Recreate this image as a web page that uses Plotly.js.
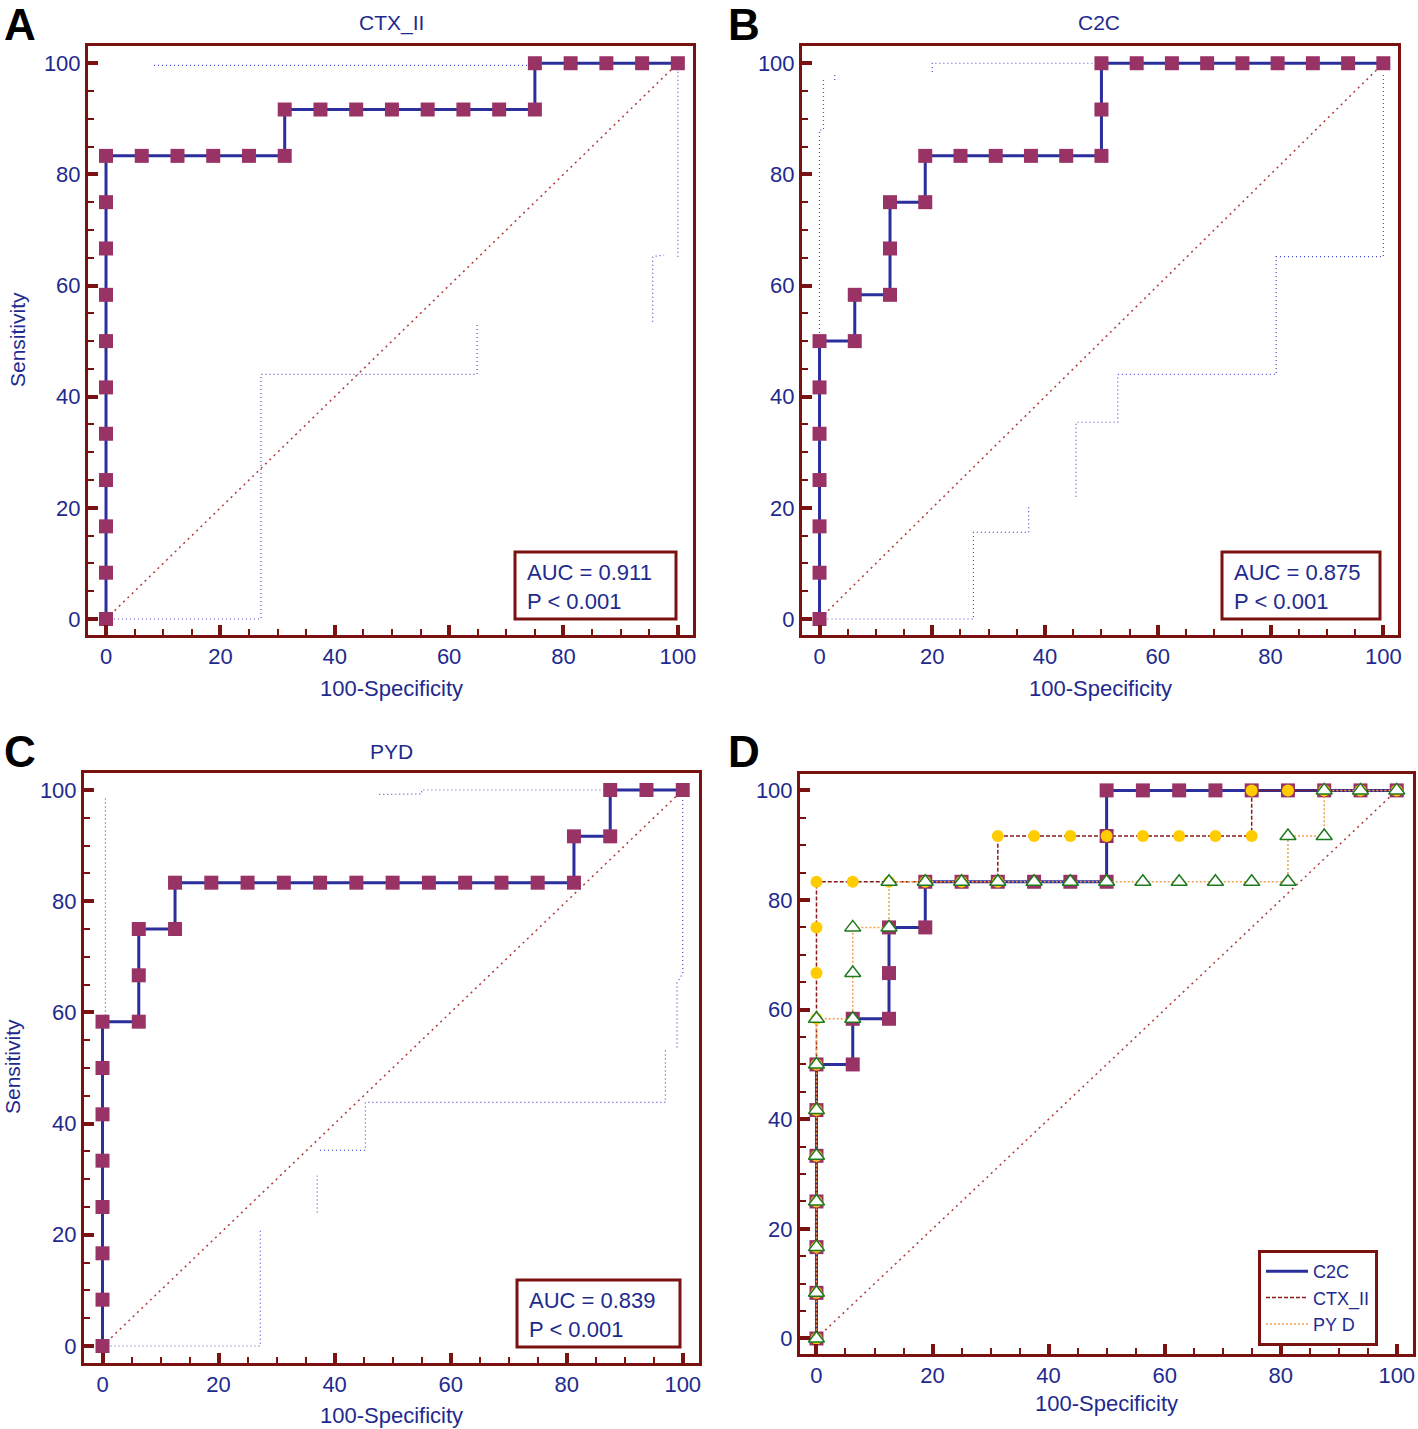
<!DOCTYPE html>
<html>
<head>
<meta charset="utf-8">
<script src="https://cdn.plot.ly/plotly-3.0.1.min.js"></script>
<style>html,body{margin:0;padding:0;background:#fff;}#chart{width:1418px;height:1429px;}</style>
</head>
<body>
<div id="chart"></div>
<script>
// ---------- DATA ----------
const panelTitles = ["CTX_II", "C2C", "PYD"];
const panelLetters = ["A", "B", "C", "D"];
const aucTexts = ["AUC = 0.911", "AUC = 0.875", "AUC = 0.839"];
const pTexts = ["P < 0.001", "P < 0.001", "P < 0.001"];
const legendNames = ["C2C", "CTX_II", "PY D"];
const tickVals = [0, 20, 40, 60, 80, 100];

// CTX_II ROC (100-Specificity, Sensitivity)
const ctxFpr = [0,0,0,0,0,0,0,0,0,0,0, 6.25,12.5,18.75,25,31.25, 31.25,37.5,43.75,50,56.25,62.5,68.75,75, 75,81.25,87.5,93.75,100];
const ctxSens = [0,8.33,16.67,25,33.33,41.67,50,58.33,66.67,75,83.33, 83.33,83.33,83.33,83.33,83.33, 91.67,91.67,91.67,91.67,91.67,91.67,91.67,91.67, 100,100,100,100,100];
// CTX_II confidence bounds
const ctxUpperX = [8.4, 75];
const ctxUpperY = [99.6, 99.6];
const ctxLowerX = [0, 27.1, 27.1, 64.9, 64.9, null, 95.6, 95.6, 97.6, null, 100, 100];
const ctxLowerY = [0, 0, 44, 44, 53.3, null, 53.5, 65.2, 65.5, null, 65.2, 100];

// C2C ROC
const c2cFpr = [0,0,0,0,0,0,0, 6.25,6.25, 12.5,12.5,12.5, 18.75,18.75, 25,31.25,37.5,43.75, 50,50,50, 56.25,62.5,68.75,75,81.25,87.5,93.75,100];
const c2cSens = [0,8.33,16.67,25,33.33,41.67,50, 50,58.33, 58.33,66.67,75, 75,83.33, 83.33,83.33,83.33,83.33, 83.33,91.67,100, 100,100,100,100,100,100,100,100];
// C2C confidence bounds
const c2cUpperX = [0, 0, 0.7, 0.7, null, 2.7, 2.7, null, 20, 20, 50];
const c2cUpperY = [50, 88, 88, 97, null, 97, 98.4, null, 98.4, 100, 100];
const c2cLowerX = [0, 27.3, 27.3, 37.1, 37.1, null, 45.5, 45.5, 52.9, 52.9, 81, 81, 100, 100];
const c2cLowerY = [0, 0, 15.6, 15.6, 20.1, null, 22, 35.4, 35.4, 44, 44, 65.2, 65.2, 98.4];

// PYD ROC
const pydFpr = [0,0,0,0,0,0,0,0, 6.25,6.25,6.25, 12.5,12.5, 18.75,25,31.25,37.5,43.75,50,56.25,62.5,68.75,75,81.25, 81.25,87.5, 87.5,93.75,100];
const pydSens = [0,8.33,16.67,25,33.33,41.67,50,58.33, 58.33,66.67,75, 75,83.33, 83.33,83.33,83.33,83.33,83.33,83.33,83.33,83.33,83.33,83.33,83.33, 91.67,91.67, 100,100,100];
// PYD confidence bounds
const pydUpperX = [0.5, 0.5, null, 47.7, 55, 55, 87.5];
const pydUpperY = [58, 98.6, null, 99.2, 99.3, 100, 100];
const pydLowerX = [0, 27.2, 27.2, null, 37, 37, null, 37.5, 45.3, 45.3, 97, 97, null, 99, 99, 100, 100];
const pydLowerY = [0, 0, 21, null, 24, 30.6, null, 35.2, 35.2, 43.8, 43.8, 53.3, null, 53.7, 65.3, 67, 98.5];

// Reference diagonal
const refX = [0, 100];
const refY = [0, 100];

// ---------- STYLE ----------
const W = 1418, H = 1429;
const MAROON = "#7A1212";
const NAVY = "#1E2A8E";
const ROCLINE = "#2B2F9C";
const SQUARE = "#993366";
const BOUND = "#4A4ACC";
const DIAG = "#B03A3A";
const FONT = "'Liberation Sans Narrow', 'Arial Narrow', 'Liberation Sans', Arial, sans-serif";
const px = x => x / W;
const py = y => 1 - y / H;

function axisBase(domain, range, anchor) {
  return {
    domain: domain, range: range, anchor: anchor,
    showline: true, mirror: true, linecolor: MAROON, linewidth: 3,
    ticks: "inside", ticklen: 10, tickwidth: 4, tickcolor: MAROON,
    tickmode: "array", tickvals: tickVals,
    minor: {dtick: 5, tick0: 0, ticks: "inside", ticklen: 6, tickwidth: 2, tickcolor: MAROON, showgrid: false},
    showgrid: false, zeroline: false, fixedrange: true,
    tickfont: {family: FONT, size: 22, color: NAVY}
  };
}

const traces = [];
function boundTraces(xa, ya, ux, uy, lx, ly) {
  traces.push({x: ux, y: uy, xaxis: xa, yaxis: ya, mode: "lines", showlegend: false, hoverinfo: "skip",
    line: {color: BOUND, width: 1.2, dash: "1px,3px"}, connectgaps: false});
  traces.push({x: lx, y: ly, xaxis: xa, yaxis: ya, mode: "lines", showlegend: false, hoverinfo: "skip",
    line: {color: BOUND, width: 1.2, dash: "1px,3px"}, connectgaps: false});
}
function diagTrace(xa, ya) {
  traces.push({x: refX, y: refY, xaxis: xa, yaxis: ya, mode: "lines", showlegend: false, hoverinfo: "skip",
    line: {color: DIAG, width: 1.5, dash: "2px,4px"}});
}
function rocTrace(xa, ya, xs, ys) {
  traces.push({x: xs, y: ys, xaxis: xa, yaxis: ya, mode: "lines+markers", showlegend: false,
    line: {color: ROCLINE, width: 3, shape: "linear"},
    marker: {symbol: "square", size: 14, color: SQUARE, line: {width: 0}}});
}

// Panel A
diagTrace("x", "y");
boundTraces("x", "y", ctxUpperX, ctxUpperY, ctxLowerX, ctxLowerY);
rocTrace("x", "y", ctxFpr, ctxSens);
// Panel B
diagTrace("x2", "y2");
boundTraces("x2", "y2", c2cUpperX, c2cUpperY, c2cLowerX, c2cLowerY);
rocTrace("x2", "y2", c2cFpr, c2cSens);
// Panel C
diagTrace("x3", "y3");
boundTraces("x3", "y3", pydUpperX, pydUpperY, pydLowerX, pydLowerY);
rocTrace("x3", "y3", pydFpr, pydSens);
// Panel D
diagTrace("x4", "y4");
traces.push({x: c2cFpr, y: c2cSens, xaxis: "x4", yaxis: "y4", mode: "lines+markers", showlegend: false,
  line: {color: ROCLINE, width: 3}, marker: {symbol: "square", size: 14, color: SQUARE}});
traces.push({x: ctxFpr, y: ctxSens, xaxis: "x4", yaxis: "y4", mode: "lines+markers", showlegend: false,
  line: {color: "#8B1A1A", width: 1.5, dash: "4px,2px"}, marker: {symbol: "circle", size: 12, color: "#FFCC00"}});
traces.push({x: pydFpr, y: pydSens, xaxis: "x4", yaxis: "y4", mode: "lines+markers", showlegend: false,
  line: {color: "#F0A050", width: 1.5, dash: "2px,2px"},
  marker: {symbol: "triangle-up", size: 14, color: "#FFFFFF", line: {color: "#1E7A1E", width: 1.5}}});
// Legend-only entries (line samples)
traces.push({x: [null], y: [null], xaxis: "x4", yaxis: "y4", mode: "lines", name: legendNames[0],
  line: {color: ROCLINE, width: 3}});
traces.push({x: [null], y: [null], xaxis: "x4", yaxis: "y4", mode: "lines", name: legendNames[1],
  line: {color: "#8B1A1A", width: 1.5, dash: "4px,2px"}});
traces.push({x: [null], y: [null], xaxis: "x4", yaxis: "y4", mode: "lines", name: legendNames[2],
  line: {color: "#F0A050", width: 1.5, dash: "2px,2px"}});

// ---------- ANNOTATIONS ----------
const ann = [];
const shapes = [];
function text(t, x, y, size, opts) {
  ann.push(Object.assign({text: t, xref: "paper", yref: "paper", x: px(x), y: py(y), xanchor: "center", yanchor: "middle",
    showarrow: false, font: {family: FONT, size: size, color: NAVY}}, opts || {}));
}
// Panel letters
const letterPos = [[20, 24], [744, 24], [20, 751], [744, 751]];
panelLetters.forEach((L, i) => text("<b>" + L + "</b>", letterPos[i][0], letterPos[i][1], 44,
  {font: {family: "'Liberation Sans', Arial, sans-serif", size: 44, color: "#000"}}));
// Titles
text(panelTitles[0], 391, 23, 21);
text(panelTitles[1], 1099, 23, 21);
text(panelTitles[2], 391, 751, 21);
// Axis titles
text("100-Specificity", 391, 688, 22);
text("100-Specificity", 1100, 688, 22);
text("100-Specificity", 391, 1415, 22);
text("100-Specificity", 1106, 1403, 22);
text("Sensitivity", 17, 340, 21, {textangle: -90});
text("Sensitivity", 12, 1067, 21, {textangle: -90});
// AUC boxes: [left, top, right, bottom] in px
const aucBox = [[515, 552, 676, 619], [1222, 552, 1380, 619], [517, 1280, 680, 1347]];
aucBox.forEach((b, i) => {
  shapes.push({type: "rect", xref: "paper", yref: "paper", x0: px(b[0]), x1: px(b[2]), y0: py(b[3]), y1: py(b[1]),
    line: {color: MAROON, width: 3}, fillcolor: "#fff", layer: "above"});
  ann.push({text: aucTexts[i] + "<br>" + pTexts[i].replace("<", "&lt;"), xref: "paper", yref: "paper",
    x: px(b[0] + 10), y: py((b[1] + b[3]) / 2 + 1), xanchor: "left", yanchor: "middle", showarrow: false, align: "left",
    font: {family: FONT, size: 22, color: NAVY}});
});

const layout = {
  width: W, height: H, margin: {l: 0, r: 0, t: 0, b: 0},
  paper_bgcolor: "#fff", plot_bgcolor: "#fff",
  xaxis: axisBase([px(88), px(693)], [-3.15, 102.65], "y"),
  yaxis: axisBase([py(635), py(46)], [-2.88, 103.1], "x"),
  xaxis2: axisBase([px(802), px(1398)], [-3.11, 102.6], "y2"),
  yaxis2: axisBase([py(635), py(46)], [-2.88, 103.1], "x2"),
  xaxis3: axisBase([px(84), px(699)], [-3.19, 102.8], "y3"),
  yaxis3: axisBase([py(1363), py(773)], [-3.06, 103.06], "x3"),
  xaxis4: axisBase([px(800), px(1413)], [-2.84, 102.8], "y4"),
  yaxis4: axisBase([py(1354), py(774)], [-2.83, 102.99], "x4"),
  showlegend: true,
  legend: {x: px(1258), y: py(1250), xanchor: "left", yanchor: "top", bgcolor: "#fff",
    bordercolor: MAROON, borderwidth: 3, itemwidth: 42, tracegroupgap: 0,
    font: {family: FONT, size: 18, color: NAVY}},
  shapes: shapes,
  annotations: ann
};

Plotly.newPlot("chart", traces, layout, {staticPlot: true, displayModeBar: false});
</script>
</body>
</html>
